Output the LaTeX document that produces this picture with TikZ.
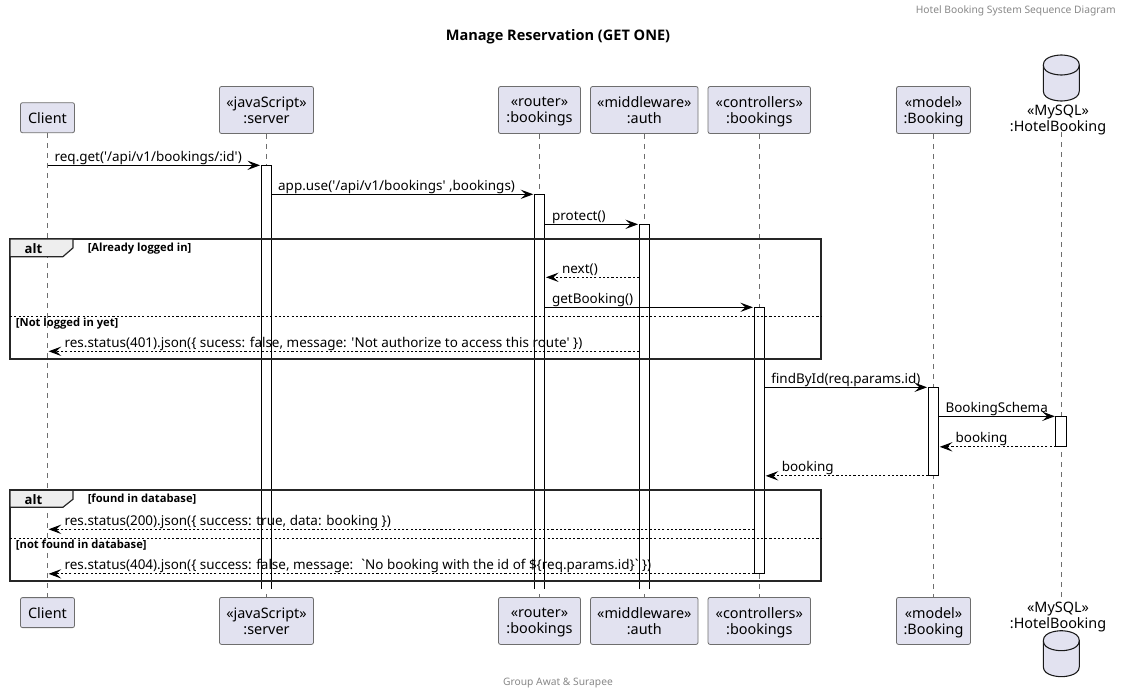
\documentclass[tikz,border=0pt]{standalone}
\usepackage{fontspec}
\newfontfamily\umlfont{Noto Sans}
\newfontfamily\umlbold{Open Sans}
\usetikzlibrary{arrows.meta}
\definecolor{partfill}{HTML}{E2E2F0}
\definecolor{partline}{HTML}{6E6E6E}
\definecolor{tabfill}{HTML}{EEEEEE}
\definecolor{softgray}{HTML}{888888}
\newcommand{\msgfont}{\umlfont\fontsize{10.1pt}{12pt}\selectfont}
\newcommand{\partfont}{\umlfont\fontsize{10.8pt}{12.3pt}\selectfont}
\begin{document}
\begin{tikzpicture}[x=0.75pt, y=-0.75pt]
	\tikzset{
		part/.style={rectangle, rounded corners=1.5pt, draw=partline, line width=0.6pt, fill=partfill, font=\partfont, align=center, inner sep=0pt, minimum height=35.25pt, text depth=0pt},
		partlow/.style={part, minimum height=22.5pt},
		dbtext/.style={font=\partfont, align=center, inner sep=0pt, text depth=0pt},
		lifeline/.style={draw=partline, line width=0.5pt, dash pattern=on 3.75pt off 3.75pt},
		barbox/.style={rectangle, fill=white, minimum width=7.5pt, inner sep=0pt, anchor=north},
		barline/.style={draw=black, line width=0.75pt},
		call/.style={draw=black, line width=0.75pt, shorten >=0.8pt, -{Stealth[length=9.5pt, width=7pt, inset=3.8pt]}},
		reply/.style={call, dash pattern=on 1.6pt off 1.6pt},
		msglabel/.style={font=\msgfont, anchor=base west, inner sep=0pt},
		altframe/.style={draw=black!85, line width=1.4pt},
		alttab/.style={draw=black!85, line width=0.9pt, fill=tabfill},
		altsplit/.style={draw=black, line width=0.6pt, dash pattern=on 1.6pt off 1.6pt},
		alttitle/.style={font=\umlbold\bfseries\fontsize{9.8pt}{12pt}\selectfont, inner sep=0pt},
		guard/.style={font=\umlbold\bfseries\fontsize{8.4pt}{10pt}\selectfont, anchor=west, inner sep=0pt},
		dbicon/.pic={
			\draw[draw=black!90, line width=0.8pt, fill=partfill] (-18,10) .. controls (-18,0) and (0,0) .. (0,0) .. controls (0,0) and (18,0) .. (18,10) -- (18,36) .. controls (18,46) and (0,46) .. (0,46) .. controls (0,46) and (-18,46) .. (-18,36) -- cycle;
			\draw[draw=black!90, line width=0.8pt] (-18,10) .. controls (-18,20) and (0,20) .. (0,20) .. controls (0,20) and (18,20) .. (18,10);
		}
	}
	\useasboundingbox (0,0) rectangle (1123,696);

	% header, title, footer
	\node[font=\umlfont\fontsize{7.7pt}{10pt}\selectfont, text=softgray, anchor=east, inner sep=0pt] (header) at (1116,11) {Hotel Booking System Sequence Diagram};
	\node[font=\umlbold\bfseries\fontsize{10.9pt}{12pt}\selectfont, inner sep=0pt] (title) at (558,36.5) {Manage Reservation (GET ONE)};
	\node[font=\umlfont\fontsize{7.7pt}{10pt}\selectfont, text=softgray, inner sep=0pt] (footer) at (558,683) {Group Awat \& Surapee};

	% participants
	\node[partlow, minimum width=40.5pt] (clienttop) at (47.5,117.7) {Client};
	\node[part, minimum width=70.5pt] (servertop) at (266.5,110) {«javaScript»\\:server};
	\node[part, minimum width=61.5pt] (routertop) at (539.5,110) {«router»\\:bookings};
	\node[part, minimum width=80.6pt] (authtop) at (644.3,110) {«middleware»\\:auth};
	\node[part, minimum width=76.9pt] (ctrltop) at (759.3,110) {«controllers»\\:bookings};
	\node[part, minimum width=55.5pt] (modeltop) at (933.5,110) {«model»\\:Booking};
	\pic at (1061.3,55) {dbicon};
	\node[dbtext] (hoteltop) at (1058,118.5) {«MySQL»\\:HotelBooking};

	\node[partlow, minimum width=40.5pt] (clientlow) at (47.5,612.6) {Client};
	\node[part, minimum width=70.5pt] (serverlow) at (266.5,620.9) {«javaScript»\\:server};
	\node[part, minimum width=61.5pt] (routerlow) at (539.5,620.9) {«router»\\:bookings};
	\node[part, minimum width=80.6pt] (authlow) at (644.3,620.9) {«middleware»\\:auth};
	\node[part, minimum width=76.9pt] (ctrllow) at (759.3,620.9) {«controllers»\\:bookings};
	\node[part, minimum width=55.5pt] (modellow) at (933.5,620.9) {«model»\\:Booking};
	\node[dbtext] (hotellow) at (1058,615) {«MySQL»\\:HotelBooking};
	\pic at (1061.3,630.7) {dbicon};

	% lifelines
	\coordinate (hotelx) at (1061.2,0);
	\draw[lifeline] (clienttop.south) -- (clientlow.north);
	\draw[lifeline] (servertop.south) -- (serverlow.north);
	\draw[lifeline] (routertop.south) -- (routerlow.north);
	\draw[lifeline] (authtop.south) -- (authlow.north);
	\draw[lifeline] (ctrltop.south) -- (ctrllow.north);
	\draw[lifeline] (modeltop.south) -- (modellow.north);
	\draw[lifeline] (hotelx |- hoteltop.south) -- (hotelx |- hotellow.north);

	% activation bars
	\node[barbox, minimum height=317.55pt] (serverbar) at (266.4,165.3) {};
	\node[barbox, minimum height=295.8pt] (routerbar) at (539.6,194.3) {};
	\node[barbox, minimum height=273.3pt] (authbar) at (644.4,224.3) {};
	\node[barbox, minimum height=199.5pt] (ctrlbar) at (759.3,307.3) {};
	\node[barbox, minimum height=66pt] (modelbar) at (933.4,387.3) {};
	\node[barbox, minimum height=22.5pt] (hotelbar) at (1061.2,416.3) {};

	\draw[barline] (serverbar.south west) |- (serverbar.north east) -- (serverbar.south east);
	\draw[barline] (routerbar.south west) |- (routerbar.north east) -- (routerbar.south east);
	\draw[barline] (authbar.south west) |- (authbar.north east) -- (authbar.south east);
	\draw[barline] (ctrlbar.south west) rectangle (ctrlbar.north east);
	\draw[barline] (modelbar.south west) rectangle (modelbar.north east);
	\draw[barline] (hotelbar.south west) rectangle (hotelbar.north east);

	% alt frames
	\draw[altframe] (10,239) rectangle (820.7,359.3);
	\draw[alttab] (10,239) -- (72.9,239) -- (72.9,248) -- (62.9,256.7) -- (10,256.7) -- cycle;
	\node[alttitle] (altone) at (33.5,248.5) {alt};
	\node[guard] (guardin) at (87.5,248.8) {[Already logged in]};
	\draw[altsplit] (10,316.3) -- (820.7,316.3);
	\node[guard] (guardout) at (15.7,323.8) {[Not logged in yet]};

	\draw[altframe] (10,490.3) rectangle (820.7,581.3);
	\draw[alttab] (10,490.3) -- (72.9,490.3) -- (72.9,499.3) -- (62.9,507.3) -- (10,507.3) -- cycle;
	\node[alttitle] (alttwo) at (33.5,499.5) {alt};
	\node[guard] (guardfound) at (87.5,499.5) {[found in database]};
	\draw[altsplit] (10,538.3) -- (820.7,538.3);
	\node[guard] (guardmiss) at (15.7,545.5) {[not found in database]};

	% message heights
	\coordinate (ynext) at (0,277.3);
	\coordinate (y401) at (0,351.3);
	\coordinate (y200) at (0,529.3);

	% messages
	\draw[call] (serverbar.north west -| clienttop.south) -- (serverbar.north west);
	\node[msglabel] (lreq) at (54.3,161.3) {req.get('/api/v1/bookings/:id')};

	\draw[call] (routerbar.north west -| serverbar.east) -- (routerbar.north west);
	\node[msglabel] (lapp) at (277.9,190.3) {app.use('/api/v1/bookings' ,bookings)};

	\draw[call] (authbar.north west -| routerbar.east) -- (authbar.north west);
	\node[msglabel] (lprotect) at (551.8,220.3) {protect()};

	\draw[reply] (ynext -| authbar.west) -- (ynext -| routerbar.east);
	\node[msglabel] (lnext) at (561.8,273.3) {next()};

	\draw[call] (ctrlbar.north west -| routerbar.east) -- (ctrlbar.north west);
	\node[msglabel] (lget) at (551.8,303.3) {getBooking()};

	\draw[reply] (y401 -| authbar.west) -- (y401 -| clienttop.south);
	\node[msglabel] (l401) at (64.3,347.3) {res.status(401).json(\{ sucess: false, message: 'Not authorize to access this route' \})};

	\draw[call] (modelbar.north west -| ctrlbar.east) -- (modelbar.north west);
	\node[msglabel] (lfind) at (771.1,383.3) {findById(req.params.id)};

	\draw[call] (hotelbar.north west -| modelbar.east) -- (hotelbar.north west);
	\node[msglabel] (lschema) at (945.3,412.3) {BookingSchema};

	\draw[reply] (hotelbar.south west) -- (hotelbar.south west -| modelbar.east);
	\node[msglabel] (lrow) at (955.3,442.3) {booking};

	\draw[reply] (modelbar.south west) -- (modelbar.south west -| ctrlbar.east);
	\node[msglabel] (lback) at (781.5,471.3) {booking};

	\draw[reply] (y200 -| ctrlbar.west) -- (y200 -| clienttop.south);
	\node[msglabel] (l200) at (64.3,525.3) {res.status(200).json(\{ success: true, data: booking \})};

	\draw[reply] (ctrlbar.south west) -- (ctrlbar.south west -| clienttop.south);
	\node[msglabel] (l404) at (64.3,569.3) {res.status(404).json(\{ success: false, message: \ `No booking with the id of \$\{req.params.id\}` \})};
\end{tikzpicture}
\end{document}
